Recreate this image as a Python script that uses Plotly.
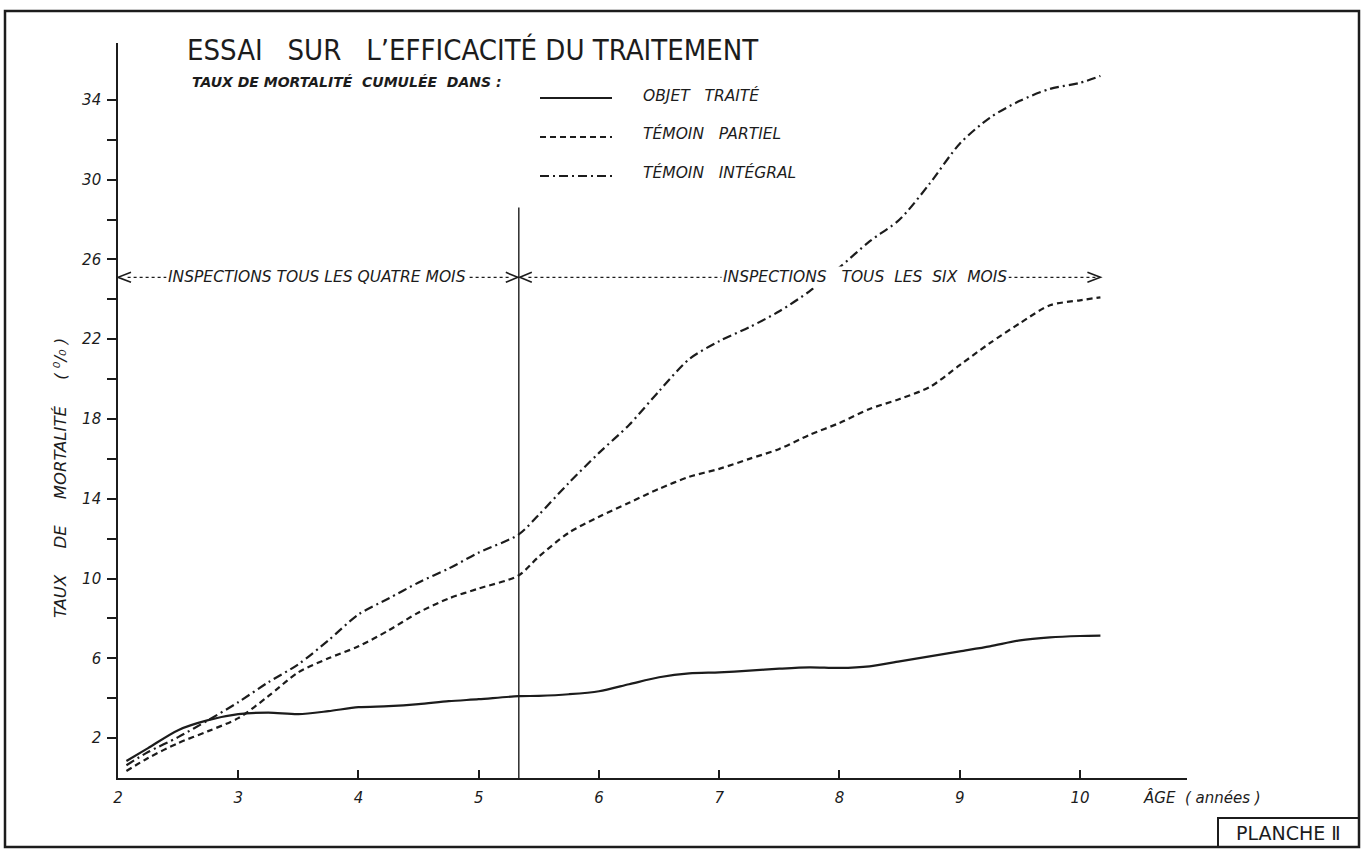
import plotly.graph_objects as go

# ---------------- data ----------------
age = [2.07, 2.25, 2.5, 2.75, 3.0, 3.25, 3.5, 3.75, 4.0, 4.25, 4.5, 4.75, 5.0,
       5.33, 5.5, 5.75, 6.0, 6.25, 6.5, 6.75, 7.0, 7.25, 7.5, 7.75, 8.0, 8.25,
       8.5, 8.75, 9.0, 9.25, 9.5, 9.75, 10.0, 10.17]

objet_traite = [0.85, 1.5, 2.4, 2.9, 3.2, 3.28, 3.2, 3.35, 3.55, 3.6, 3.7, 3.85, 3.95,
                4.1, 4.12, 4.2, 4.35, 4.7, 5.05, 5.25, 5.3, 5.38, 5.48, 5.55, 5.52, 5.6,
                5.85, 6.1, 6.35, 6.6, 6.9, 7.05, 7.12, 7.14]

temoin_partiel = [0.35, 1.0, 1.75, 2.35, 3.0, 4.1, 5.3, 6.0, 6.6, 7.4, 8.3, 9.0, 9.5,
                  10.15, 11.1, 12.3, 13.1, 13.8, 14.5, 15.1, 15.5, 16.0, 16.5, 17.2, 17.8, 18.5,
                  19.0, 19.6, 20.7, 21.8, 22.8, 23.7, 23.95, 24.1]

temoin_integral = [0.64, 1.3, 2.05, 2.9, 3.8, 4.8, 5.7, 6.9, 8.2, 9.0, 9.8, 10.5, 11.3,
                   12.2, 13.2, 14.8, 16.3, 17.7, 19.4, 21.0, 21.9, 22.6, 23.4, 24.4, 25.6, 26.9,
                   28.0, 29.8, 31.8, 33.1, 33.95, 34.55, 34.85, 35.2]

series_names = ["OBJET\u00a0\u00a0 TRAITÉ", "TÉMOIN\u00a0\u00a0 PARTIEL", "TÉMOIN\u00a0\u00a0 INTÉGRAL"]
series_dash = ["solid", "6px,4px", "9px,4px,2px,4px"]

x_tick_vals = [2, 3, 4, 5, 6, 7, 8, 9, 10]
y_tick_vals = list(range(2, 35, 2))
y_tick_text = [str(v) if (v - 2) % 4 == 0 else "" for v in y_tick_vals]

switch_age = 5 + 4 / 12          # change of inspection frequency
switch_line_top = 28.6
inspection_level = 25.1
x_range = [2, 10.89]
y_range = [0, 36.85]

# ---------------- layout helpers ----------------
W, H = 1362, 850
L, R, T, B = 118, 1187, 43, 778
INK = "#1c1c1c"
FONT = "DejaVu Sans"
FONT_COND = "DejaVu Sans Condensed, DejaVu Sans"


def fx(px):
    return (px - L) / (R - L)


def fy(py):
    return (B - py) / (B - T)


fig = go.Figure()

for name, vals, dash in zip(series_names, [objet_traite, temoin_partiel, temoin_integral], series_dash):
    fig.add_trace(go.Scatter(
        x=age, y=vals, mode="lines", name=name,
        line=dict(color=INK, width=2.2, dash=dash, shape="spline", smoothing=0.8),
        showlegend=False,
    ))

shapes = []
# outer frame
shapes.append(dict(type="rect", xref="paper", yref="paper",
                   x0=fx(5), x1=fx(1359), y0=fy(847), y1=fy(11),
                   line=dict(color=INK, width=2.5)))
# PLANCHE box
shapes.append(dict(type="rect", xref="paper", yref="paper",
                   x0=fx(1218), x1=fx(1359), y0=fy(847), y1=fy(818),
                   line=dict(color=INK, width=2)))
# vertical separator
shapes.append(dict(type="line", xref="x", yref="y",
                   x0=switch_age, x1=switch_age, y0=0, y1=switch_line_top,
                   line=dict(color=INK, width=1.4)))
# dotted inspection lines
for xa, xb in [(x_range[0] + 0.08, switch_age - 0.08), (switch_age + 0.08, 10.15)]:
    shapes.append(dict(type="line", xref="x", yref="y",
                       x0=xa, x1=xb, y0=inspection_level, y1=inspection_level,
                       line=dict(color=INK, width=1.2, dash="dot")))
# chevrons
for anchor, path in [(x_range[0], "M 13 5 L 0 0 L 13 -5"),
                     (switch_age, "M -13 5 L -1 0 L -13 -5"),
                     (switch_age, "M 13 5 L 1 0 L 13 -5"),
                     (10.17, "M -13 5 L 0 0 L -13 -5")]:
    shapes.append(dict(type="path", xref="x", yref="y",
                       xsizemode="pixel", ysizemode="pixel",
                       xanchor=anchor, yanchor=inspection_level,
                       path=path, line=dict(color=INK, width=1.6)))
# legend samples
for py, dash in zip([98, 137, 176], series_dash):
    shapes.append(dict(type="line", xref="paper", yref="paper",
                       x0=fx(540), x1=fx(612), y0=fy(py), y1=fy(py),
                       line=dict(color=INK, width=2, dash=dash)))

annotations = []
ital = dict(family=FONT, size=15, color=INK, style="italic")
ital_big = dict(family=FONT, size=15.5, color=INK, style="italic")
annotations.append(dict(xref="paper", yref="paper", x=fx(185), y=fy(50),
                        xanchor="left", yanchor="middle", showarrow=False,
                        text="ESSAI\u00a0\u00a0 SUR\u00a0\u00a0 L’EFFICACITÉ DU TRAITEMENT",
                        font=dict(family=FONT_COND, size=29, color=INK)))
annotations.append(dict(xref="paper", yref="paper", x=fx(190), y=fy(82),
                        xanchor="left", yanchor="middle", showarrow=False,
                        text="TAUX DE MORTALITÉ\u00a0 CUMULÉE\u00a0 DANS :",
                        font=dict(family=FONT, size=14, color=INK, style="italic", weight="bold")))
for py, name in zip([95, 133, 172], series_names):
    annotations.append(dict(xref="paper", yref="paper", x=fx(641), y=fy(py),
                            xanchor="left", yanchor="middle", showarrow=False,
                            text=name, font=ital_big))
annotations.append(dict(xref="x", yref="y", x=3.655, y=inspection_level,
                        xanchor="center", yanchor="middle", showarrow=False,
                        text="INSPECTIONS TOUS LES QUATRE MOIS", font=ital_big,
                        bgcolor="white", borderpad=1))
annotations.append(dict(xref="x", yref="y", x=8.216, y=inspection_level,
                        xanchor="center", yanchor="middle", showarrow=False,
                        text="INSPECTIONS\u00a0\u00a0 TOUS\u00a0 LES\u00a0 SIX\u00a0 MOIS", font=ital_big,
                        bgcolor="white", borderpad=1))
annotations.append(dict(xref="paper", yref="paper", x=fx(60), y=fy(478),
                        xanchor="center", yanchor="middle", showarrow=False, textangle=-90,
                        text="TAUX\u00a0\u00a0\u00a0\u00a0 DE\u00a0\u00a0\u00a0\u00a0 MORTALITÉ\u00a0\u00a0\u00a0\u00a0 ( ⁰/₀ )",
                        font=dict(family=FONT, size=16.5, color=INK, style="italic")))
annotations.append(dict(xref="paper", yref="paper", x=fx(1141), y=fy(797),
                        xanchor="left", yanchor="middle", showarrow=False,
                        text="ÂGE\u00a0 ( années )", font=ital))
annotations.append(dict(xref="paper", yref="paper", x=fx(1288), y=fy(833),
                        xanchor="center", yanchor="middle", showarrow=False,
                        text="PLANCHE Ⅱ", font=dict(family=FONT, size=19, color=INK)))

fig.update_layout(
    width=W, height=H,
    margin=dict(l=L, r=W - R, t=T, b=H - B, pad=0),
    paper_bgcolor="white", plot_bgcolor="white",
    shapes=shapes, annotations=annotations,
    showlegend=False,
    xaxis=dict(range=x_range, tickvals=x_tick_vals, ticks="inside", ticklen=8,
               tickwidth=1.5, tickcolor=INK, showline=True, linecolor=INK, linewidth=1.6,
               showgrid=False, zeroline=False, tickfont=ital, ticklabelstandoff=5),
    yaxis=dict(range=y_range, tickvals=y_tick_vals, ticktext=y_tick_text, ticks="outside",
               ticklen=9, tickwidth=1.5, tickcolor=INK, showline=True, linecolor=INK,
               linewidth=1.6, showgrid=False, zeroline=False, tickfont=ital,
               ticklabelstandoff=3),
)

fig.write_html("out.html")
